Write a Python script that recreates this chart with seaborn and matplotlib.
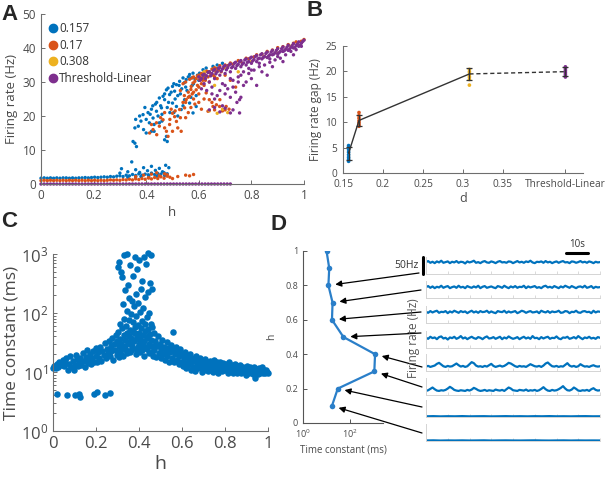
import numpy as np
import pandas as pd
import seaborn as sns
import matplotlib.pyplot as plt
from matplotlib.lines import Line2D

sns.set_style("ticks")
plt.rcParams['font.family'] = ['Open Sans', 'DejaVu Sans']
plt.rcParams['mathtext.default'] = 'regular'
plt.rcParams['xtick.direction'] = 'in'
plt.rcParams['ytick.direction'] = 'in'

# MATLAB default colours
C_BLUE = '#0072BD'
C_ORANGE = '#D95319'
C_YELLOW = '#EDB120'
C_PURPLE = '#7E2F8E'
TXT = '#4a4a4a'
AXC = '#6e6e6e'

# ---------------- A : firing rate vs h ----------------
d_labels = ['0.157', '0.17', '0.308', 'Threshold-Linear']
d_colors = [C_BLUE, C_ORANGE, C_YELLOW, C_PURPLE]

h_low = [0.000, 0.012, 0.024, 0.036, 0.048, 0.060, 0.072, 0.084, 0.096, 0.108,
         0.120, 0.132, 0.144, 0.156, 0.168, 0.180, 0.192, 0.204, 0.216, 0.228,
         0.240, 0.252, 0.264, 0.276, 0.288, 0.300, 0.312, 0.324, 0.336, 0.348,
         0.360, 0.372, 0.384, 0.396, 0.408, 0.420, 0.432, 0.444, 0.456, 0.468, 0.480]
h_low_tail = [0.492, 0.504, 0.516, 0.528, 0.540, 0.552, 0.564, 0.576, 0.588, 0.600,
              0.612, 0.624, 0.636, 0.648, 0.660, 0.672, 0.684, 0.696, 0.708, 0.720]

blue_low_fr = [1.7, 1.8, 1.7, 1.8, 1.7, 1.8, 1.7, 1.8, 1.8, 1.7, 1.8, 1.7, 1.8, 1.8, 1.9, 1.8,
               1.9, 2.0, 1.9, 2.0, 2.1, 2.0, 2.2, 2.1, 2.3, 2.4, 2.2, 2.6, 2.4, 2.8, 2.5, 3.0,
               2.6, 2.9, 2.7, 3.2, 2.8, 3.1, 2.9, 3.3, 3.0]
blue_mid_h = [0.300, 0.306, 0.330, 0.345, 0.360, 0.375, 0.390, 0.405, 0.420, 0.435,
              0.450, 0.462, 0.474, 0.486, 0.380, 0.410, 0.440, 0.470, 0.330, 0.360]
blue_mid_fr = [3.2, 4.5, 3.6, 6.5, 4.2, 3.4, 4.8, 3.9, 5.2, 4.0,
               4.6, 3.6, 5.5, 4.8, 2.2, 2.4, 2.3, 2.5, 2.0, 2.1]
blue_hi_h = [0.350, 0.357, 0.363, 0.357, 0.370, 0.375, 0.388, 0.400, 0.407, 0.420,
             0.426, 0.439, 0.445, 0.458, 0.400, 0.420, 0.430, 0.450, 0.464, 0.470,
             0.477, 0.483, 0.489, 0.500, 0.508, 0.470, 0.477, 0.480, 0.515, 0.527,
             0.540, 0.552, 0.565, 0.571, 0.578, 0.500, 0.515, 0.533, 0.546, 0.565,
             0.578, 0.590, 0.603, 0.616, 0.628, 0.654, 0.395, 0.412, 0.435, 0.460,
             0.490, 0.520, 0.535, 0.555, 0.580, 0.600, 0.620, 0.640, 0.670, 0.690,
             0.440, 0.455, 0.470, 0.485, 0.495, 0.505, 0.510, 0.525, 0.530, 0.545,
             0.550, 0.560, 0.575, 0.585, 0.595, 0.610, 0.380, 0.390, 0.415, 0.425,
             0.450, 0.460, 0.480, 0.505, 0.520, 0.540, 0.570, 0.590, 0.360, 0.430]
blue_hi_fr = [12.5, 12.0, 11.0, 16.5, 17.0, 20.0, 20.4, 19.0, 21.0, 22.0,
              19.4, 21.4, 20.0, 22.4, 15.0, 15.5, 15.5, 25.3, 25.8, 24.8,
              27.7, 28.2, 26.3, 28.7, 27.3, 13.0, 14.0, 12.5, 29.2, 30.2,
              31.2, 30.7, 32.2, 31.2, 32.6, 23.8, 22.8, 21.9, 24.8, 23.8,
              20.9, 22.8, 32.6, 33.6, 34.1, 34.6, 22.5, 18.0, 23.5, 18.5,
              21.0, 26.0, 28.0, 27.5, 29.5, 30.5, 31.5, 33.0, 35.0, 35.5,
              24.0, 23.0, 26.5, 24.0, 27.0, 29.5, 25.0, 29.0, 26.5, 29.8,
              28.5, 31.5, 29.0, 31.0, 32.0, 31.0, 18.5, 16.0, 20.5, 23.0,
              18.0, 20.5, 22.5, 21.0, 20.0, 23.0, 25.5, 26.0, 19.0, 17.5]

orange_low_fr = [1.0, 1.1, 1.0, 1.1, 1.0, 1.1, 1.0, 1.1, 1.0, 1.1, 1.0, 1.1, 1.0, 1.1, 1.0, 1.1,
                 1.0, 1.1, 1.0, 1.1, 1.0, 1.1, 1.2, 1.1, 1.2, 1.1, 1.3, 1.2, 1.4, 1.2, 1.5, 1.3,
                 1.6, 1.4, 1.8, 1.5, 1.9, 1.6, 2.1, 1.7, 2.3]
orange_mid_h = [0.36, 0.39, 0.42, 0.45, 0.47, 0.49, 0.50, 0.52, 0.55, 0.565, 0.58, 0.44, 0.41, 0.48]
orange_mid_fr = [2.2, 2.6, 2.9, 2.4, 3.0, 2.0, 1.6, 2.2, 2.6, 2.4, 2.8, 3.3, 1.8, 2.7]
orange_hi_h = [0.413, 0.426, 0.439, 0.450, 0.464, 0.477, 0.483, 0.489, 0.500, 0.508,
               0.515, 0.527, 0.533, 0.546, 0.552, 0.565, 0.571, 0.578, 0.590, 0.603,
               0.616, 0.628, 0.640, 0.654, 0.667, 0.680, 0.704, 0.580, 0.590, 0.600,
               0.610, 0.620, 0.630, 0.640, 0.650, 0.660, 0.670, 0.680, 0.700, 0.720,
               0.750, 0.780, 0.820, 0.860, 0.900, 0.940, 0.970, 1.000, 0.560, 0.575,
               0.595, 0.610, 0.625, 0.660, 0.550, 0.520, 0.495, 0.560, 0.585, 0.440,
               0.470, 0.600, 0.610, 0.690, 0.720, 0.740, 0.635, 0.679,
               0.540, 0.550, 0.565, 0.575, 0.585, 0.595, 0.605, 0.615, 0.625, 0.635,
               0.645, 0.655, 0.665, 0.675, 0.685, 0.695, 0.710, 0.730, 0.760, 0.790,
               0.810, 0.840, 0.880, 0.920, 0.960, 0.990, 0.530, 0.545, 0.570, 0.600,
               0.620, 0.640, 0.670, 0.700, 0.550, 0.580,
               0.420, 0.455, 0.470, 0.490, 0.500, 0.510, 0.530, 0.540, 0.560, 0.570,
               0.580, 0.600, 0.620, 0.650, 0.660, 0.700, 0.715]
orange_hi_fr = [15.0, 16.0, 18.0, 17.0, 18.9, 15.5, 14.0, 17.5, 20.8, 19.8,
                18.4, 21.9, 15.5, 22.4, 24.8, 25.8, 28.7, 29.7, 27.7, 30.7,
                31.2, 26.8, 24.8, 22.8, 23.3, 24.8, 22.8, 31.5, 31.0, 32.0,
                32.5, 32.8, 33.2, 33.0, 33.8, 34.2, 34.0, 34.8, 35.0, 35.6,
                36.3, 37.0, 38.0, 39.0, 40.1, 41.0, 41.8, 42.5, 27.0, 26.5,
                29.0, 29.5, 30.5, 31.5, 19.5, 16.5, 22.0, 21.0, 23.5, 14.5,
                21.0, 24.0, 22.0, 21.5, 30.5, 28.5, 21.4, 22.8,
                29.5, 30.0, 30.8, 31.2, 30.2, 31.8, 31.5, 30.5, 32.0, 31.5,
                32.5, 32.0, 33.0, 33.5, 33.0, 34.2, 34.8, 35.2, 36.0, 36.8,
                37.4, 38.2, 39.4, 40.4, 41.4, 42.0, 27.5, 26.0, 27.8, 28.5,
                29.0, 30.0, 31.0, 32.0, 24.0, 25.0,
                17.5, 19.5, 16.5, 19.0, 15.5, 21.5, 19.5, 24.0, 25.5, 22.5,
                27.0, 26.5, 25.0, 24.0, 21.8, 21.8, 22.0]

yellow_h = [0.640, 0.670, 0.690, 0.710, 0.620, 0.700, 0.750, 0.800, 0.850, 0.900, 0.950, 0.660]
yellow_fr = [21.5, 20.8, 22.0, 21.0, 33.0, 34.5, 33.0, 36.0, 37.5, 38.5, 40.5, 29.0]

purple_hi_h = [0.60, 0.61, 0.62, 0.63, 0.64, 0.65, 0.66, 0.67, 0.68, 0.69,
               0.70, 0.71, 0.72, 0.73, 0.74, 0.75, 0.76, 0.77, 0.78, 0.79,
               0.80, 0.81, 0.82, 0.83, 0.84, 0.85, 0.86, 0.87, 0.88, 0.89,
               0.90, 0.91, 0.92, 0.93, 0.94, 0.95, 0.96, 0.97, 0.98, 0.99, 1.00,
               0.62, 0.64, 0.66, 0.68, 0.70, 0.72, 0.74, 0.76, 0.78, 0.80,
               0.82, 0.84, 0.86, 0.88, 0.90, 0.92, 0.94, 0.96, 0.98,
               0.63, 0.65, 0.67, 0.69, 0.71, 0.73, 0.75, 0.77, 0.79, 0.81,
               0.83, 0.85, 0.87, 0.89, 0.91, 0.93, 0.66, 0.70, 0.74, 0.78,
               0.72, 0.755, 0.745, 0.76, 0.64, 0.66, 0.68, 0.70, 0.72, 0.73,
               0.755, 0.69, 0.80, 0.84, 0.88, 0.92, 0.96, 0.86, 0.82,
               0.605, 0.615, 0.625, 0.635, 0.645, 0.655, 0.665, 0.675, 0.685, 0.695,
               0.705, 0.715, 0.725, 0.735, 0.745, 0.755, 0.765, 0.775, 0.785, 0.795,
               0.805, 0.815, 0.825, 0.835, 0.845, 0.855, 0.865, 0.875, 0.885, 0.895,
               0.905, 0.915, 0.925, 0.935, 0.945, 0.955, 0.965, 0.975, 0.985, 0.995,
               0.61, 0.65, 0.68, 0.70, 0.72, 0.76, 0.80, 0.83, 0.87, 0.90,
               0.95, 0.97, 0.99, 0.77, 0.73, 0.75, 0.79]
purple_hi_fr = [31.5, 31.0, 32.3, 31.8, 33.0, 32.5, 33.7, 33.0, 34.3, 33.8,
                34.8, 34.2, 35.3, 34.6, 35.8, 35.2, 36.3, 35.6, 36.8, 36.0,
                37.3, 36.6, 37.8, 37.0, 38.3, 37.5, 38.8, 38.0, 39.3, 38.6,
                39.8, 39.0, 40.3, 39.6, 40.8, 40.2, 41.3, 40.7, 41.8, 41.4, 42.3,
                29.5, 30.0, 31.0, 32.0, 32.5, 33.0, 34.0, 34.5, 35.0, 35.5,
                36.0, 36.8, 37.2, 38.0, 38.3, 39.0, 39.3, 40.0, 40.5,
                27.5, 28.5, 26.0, 29.5, 28.0, 30.5, 31.5, 29.0, 32.5, 33.5,
                34.5, 35.0, 35.8, 36.5, 37.0, 38.0, 25.0, 26.5, 27.0, 30.0,
                25.5, 24.8, 24.0, 25.5, 21.8, 22.5, 21.2, 22.3, 20.9, 21.8,
                20.9, 23.0, 31.0, 33.0, 34.5, 36.0, 38.0, 32.0, 29.0,
                30.5, 32.0, 31.0, 32.8, 31.8, 33.4, 32.4, 34.0, 33.2, 34.6,
                33.6, 35.0, 34.2, 35.5, 34.8, 36.0, 35.2, 36.5, 35.8, 37.0,
                36.2, 37.5, 36.8, 38.0, 37.2, 38.4, 37.6, 38.8, 38.2, 39.3,
                38.6, 39.8, 39.2, 40.2, 39.6, 40.7, 40.1, 41.2, 40.8, 41.9,
                28.0, 26.5, 27.5, 29.0, 31.0, 32.0, 33.5, 35.5, 36.8, 37.5,
                39.0, 39.5, 40.5, 33.0, 28.5, 30.0, 34.0]

# ---------------- B : firing rate gap vs d ----------------
b_ticks = [0.15, 0.2, 0.25, 0.3, 0.35, 0.428]
b_ticklabels = ['0.15', '0.2', '0.25', '0.3', '0.35', 'Threshold-Linear']
b_d = [0.157, 0.17, 0.308, 0.428]
gap_points = [[2.3, 2.7, 3.1, 3.6, 4.1, 4.6, 5.0, 5.4],
              [9.2, 9.5, 9.9, 10.3, 10.8, 11.3, 11.9],
              [17.3, 18.4, 18.9, 19.4, 19.9, 20.4],
              [18.9, 19.3, 19.7, 20.1, 20.5, 20.9]]
gap_mean = [3.9, 10.35, 19.5, 19.95]
gap_err = [1.3, 1.05, 1.1, 0.95]

# ---------------- C : time constant vs h ----------------
c_low_h = [0.020, 0.065, 0.100, 0.120, 0.125, 0.190, 0.205, 0.240, 0.265]
c_low_tau = [4.2, 4.0, 4.1, 4.3, 3.8, 4.2, 4.5, 4.0, 4.4]
c_h = [0.000, 0.005, 0.012, 0.018, 0.025, 0.030, 0.038, 0.045, 0.050, 0.057,
       0.062, 0.068, 0.074, 0.080, 0.086, 0.092, 0.098, 0.100, 0.105, 0.110,
       0.115, 0.120, 0.126, 0.132, 0.138, 0.142, 0.148, 0.153, 0.158, 0.162,
       0.168, 0.173, 0.178, 0.183, 0.188, 0.193, 0.198, 0.200,
       0.205, 0.210, 0.215, 0.220, 0.225, 0.230, 0.235, 0.240, 0.245, 0.250,
       0.255, 0.260, 0.263, 0.268, 0.272, 0.276, 0.280, 0.284, 0.288, 0.292, 0.296, 0.298,
       0.300, 0.302, 0.304, 0.306, 0.308, 0.310, 0.312, 0.314, 0.316, 0.318,
       0.320, 0.322, 0.324, 0.326, 0.328, 0.330, 0.332, 0.334, 0.336, 0.338,
       0.340, 0.342, 0.344, 0.346, 0.348, 0.350, 0.352, 0.354, 0.356, 0.358,
       0.360, 0.362, 0.364, 0.366, 0.368, 0.370, 0.372, 0.374, 0.376, 0.378,
       0.380, 0.382, 0.384, 0.386, 0.388, 0.390, 0.392, 0.394, 0.396, 0.398,
       0.400, 0.402, 0.404, 0.406, 0.408, 0.410, 0.412, 0.414, 0.416, 0.418,
       0.420, 0.422, 0.424, 0.426, 0.428, 0.430, 0.432, 0.434, 0.436, 0.438,
       0.440, 0.442, 0.444, 0.446, 0.448, 0.450, 0.452, 0.454, 0.456, 0.458,
       0.460, 0.462, 0.464,
       0.305, 0.315, 0.325, 0.335, 0.345, 0.355, 0.365, 0.375, 0.385, 0.395,
       0.405, 0.415, 0.425, 0.435, 0.445, 0.455, 0.465, 0.360, 0.380, 0.400,
       0.420, 0.440, 0.460,
       0.468, 0.472, 0.476, 0.480, 0.484, 0.488, 0.492, 0.496, 0.500, 0.504,
       0.508, 0.512, 0.516, 0.520, 0.524, 0.528, 0.532, 0.536, 0.540, 0.544,
       0.548, 0.552, 0.556, 0.560, 0.564, 0.568, 0.572, 0.576, 0.580, 0.584,
       0.588, 0.592, 0.596, 0.600,
       0.604, 0.608, 0.612, 0.616, 0.620, 0.624, 0.628, 0.632, 0.636, 0.640,
       0.644, 0.648, 0.652, 0.656, 0.660, 0.664, 0.668, 0.672, 0.676, 0.680,
       0.684, 0.688, 0.692, 0.696, 0.700, 0.704, 0.708, 0.712, 0.716, 0.720,
       0.724, 0.728, 0.732, 0.736, 0.740, 0.744, 0.748, 0.752, 0.756, 0.760,
       0.764, 0.768, 0.772, 0.776, 0.780, 0.784, 0.788, 0.792, 0.796, 0.800,
       0.804, 0.808, 0.812, 0.816, 0.820, 0.824, 0.828, 0.832, 0.836, 0.840,
       0.844, 0.848, 0.852, 0.856, 0.860, 0.864, 0.868, 0.872, 0.876, 0.880,
       0.884, 0.888, 0.892, 0.896, 0.900, 0.904, 0.908, 0.912, 0.916, 0.920,
       0.924, 0.928, 0.932, 0.936, 0.940, 0.944, 0.948, 0.952, 0.956, 0.960,
       0.964, 0.968, 0.972, 0.976, 0.980, 0.984, 0.988, 0.992, 0.996, 1.000]
c_tau = [11.5, 12.5, 11.8, 13.5, 12.2, 14.8, 13.0, 16.0, 12.5, 15.0,
         17.5, 11.0, 13.8, 18.5, 12.0, 15.5, 10.8, 13.2, 19.5, 16.5,
         12.5, 14.5, 17.0, 13.0, 21.0, 15.5, 12.2, 18.0, 24.0, 14.0,
         16.5, 20.0, 13.5, 17.5, 22.5, 15.0, 26.0, 19.0,
         14.5, 21.5, 17.0, 27.0, 15.5, 23.0, 19.5, 31.0, 17.0, 25.0,
         21.0, 34.0, 18.5, 28.0, 22.5, 38.0, 16.0, 30.0, 24.0, 42.0, 19.5, 33.0,
         22.0, 48.0, 600, 28.0, 720, 36.0, 65.0, 500, 20.0, 30.0,
         55.0, 410, 140, 26.0, 42.0, 80.0, 950, 35.0, 250, 24.0,
         60.0, 110, 1000, 45.0, 300, 32.0, 75.0, 180, 22.0, 52.0,
         650, 38.0, 95.0, 160, 28.0, 70.0, 420, 48.0, 130, 35.0,
         900, 58.0, 210, 25.0, 88.0, 40.0, 550, 62.0, 150, 30.0,
         46.0, 780, 105, 36.0, 260, 56.0, 24.0, 350, 72.0, 42.0,
         120, 880, 33.0, 64.0, 190, 50.0, 27.0, 680, 85.0, 38.0,
         230, 54.0, 1050, 30.0, 100, 44.0, 320, 66.0, 950, 35.0,
         58.0, 260, 28.0,
         18.0, 25.0, 19.0, 28.0, 21.0, 40.0, 24.0, 33.0, 20.0, 27.0,
         22.0, 31.0, 19.0, 25.0, 21.0, 28.0, 19.0, 30.0, 45.0, 36.0,
         28.0, 40.0, 22.0,
         45.0, 24.0, 33.0, 18.0, 28.0, 40.0, 21.0, 30.0, 17.0, 25.0,
         35.0, 20.0, 27.0, 16.0, 23.0, 32.0, 19.0, 26.0, 15.0, 22.0,
         29.0, 17.5, 48.0, 24.0, 14.5, 20.0, 27.0, 16.0, 22.0, 13.5,
         18.5, 25.0, 15.0, 20.0,
         12.5, 17.0, 22.0, 14.0, 11.5, 18.5, 13.0, 16.0, 20.0, 11.0,
         14.5, 17.5, 12.0, 15.5, 10.5, 19.0, 13.0, 16.0, 11.5, 14.0,
         17.0, 12.0, 10.0, 15.0, 13.0, 11.0, 16.5, 12.5, 14.5, 10.5,
         13.5, 15.5, 11.5, 12.5, 14.0, 10.0, 16.0, 12.0, 13.5, 11.0,
         14.5, 9.8, 12.5, 15.0, 11.5, 13.0, 10.5, 14.0, 12.0, 10.8,
         13.5, 11.5, 9.8, 12.5, 14.5, 10.5, 11.8, 13.0, 9.5, 12.0,
         10.8, 13.5, 11.0, 9.8, 12.5, 10.5, 11.8, 13.0, 9.5, 11.2,
         12.2, 10.2, 11.5, 9.0, 12.5, 10.5, 11.0, 9.6, 12.0, 10.2,
         11.3, 9.4, 10.8, 12.2, 8.0, 10.0, 11.2, 9.2, 10.4, 11.8,
         9.6, 10.6, 12.2, 9.8, 11.0, 10.2, 9.5, 10.8, 10.0, 9.8]

# ---------------- D : time constant per h + example traces ----------------
d_h = [1.0, 0.9, 0.8, 0.7, 0.6, 0.5, 0.4, 0.3, 0.2, 0.1]
d_tau = [10, 13, 12, 18, 17, 52, 1150, 1070, 30, 17]
arrow_h = [0.8, 0.7, 0.6, 0.5, 0.4, 0.3, 0.2, 0.1]

trace_rows = [
    [35, 38, 33, 36, 32, 37, 34, 39, 33, 35, 37, 32, 36, 34, 38, 33, 36, 35, 31, 37,
     34, 36, 39, 33, 35, 32, 36, 38, 34, 33, 37, 35, 32, 36, 38, 34, 35, 33, 37, 36,
     32, 35, 38, 34, 36, 33, 37, 35, 39, 34, 32, 36, 35, 37, 33, 38, 34, 36, 32, 35,
     37, 33, 36, 38, 34, 35, 32, 37, 36, 33, 35, 38, 34, 36, 33, 37, 35, 32, 36, 34, 35],
    [32, 35, 30, 34, 29, 33, 31, 36, 30, 33, 35, 29, 32, 34, 30, 36, 31, 33, 29, 35,
     32, 30, 34, 31, 36, 29, 33, 35, 30, 32, 34, 31, 29, 35, 33, 30, 36, 32, 29, 34,
     31, 35, 30, 33, 32, 36, 29, 34, 31, 33, 35, 30, 32, 29, 34, 36, 31, 33, 30, 35,
     32, 29, 34, 31, 36, 33, 30, 35, 32, 29, 33, 34, 31, 36, 30, 32, 35, 29, 33, 31, 32],
    [33, 30, 35, 31, 34, 36, 30, 33, 32, 35, 29, 34, 31, 36, 33, 30, 35, 32, 34, 29,
     33, 36, 31, 34, 30, 35, 32, 33, 36, 30, 34, 31, 29, 35, 33, 32, 36, 30, 34, 31,
     33, 35, 29, 32, 36, 34, 30, 33, 35, 31, 32, 34, 29, 36, 33, 31, 35, 30, 34, 32,
     33, 36, 30, 31, 35, 34, 29, 33, 32, 36, 31, 30, 34, 35, 32, 33, 29, 36, 31, 34, 33],
    [30, 27, 33, 29, 31, 26, 32, 34, 28, 30, 25, 31, 29, 33, 27, 30, 35, 28, 31, 26,
     30, 33, 29, 27, 32, 30, 26, 31, 34, 28, 29, 32, 27, 30, 33, 26, 31, 28, 34, 30,
     27, 29, 32, 26, 30, 33, 28, 31, 27, 35, 29, 30, 26, 32, 28, 31, 33, 27, 30, 29,
     34, 28, 26, 31, 30, 33, 27, 29, 32, 28, 35, 30, 26, 31, 29, 33, 28, 30, 27, 32, 30],
    [13, 15, 12, 14, 16, 21, 24, 19, 14, 12, 15, 13, 14, 18, 22, 17, 13, 15, 12, 14,
     20, 26, 23, 16, 13, 14, 12, 15, 13, 17, 21, 15, 12, 14, 16, 13, 15, 19, 24, 22,
     18, 14, 12, 15, 13, 14, 12, 16, 20, 17, 14, 13, 15, 12, 16, 22, 25, 19, 14, 13,
     15, 12, 14, 13, 18, 23, 16, 13, 15, 12, 14, 20, 16, 13, 14, 12, 15, 17, 14, 13, 14],
    [12, 14, 18, 22, 17, 13, 12, 14, 13, 15, 19, 24, 20, 15, 13, 12, 14, 13, 12, 15,
     13, 16, 21, 18, 14, 12, 13, 15, 12, 14, 13, 12, 16, 14, 13, 15, 12, 17, 22, 19,
     14, 13, 12, 15, 14, 13, 16, 12, 14, 13, 15, 12, 14, 18, 23, 17, 13, 12, 15, 13,
     14, 17, 21, 26, 19, 14, 13, 16, 22, 18, 13, 12, 14, 13, 15, 12, 17, 20, 15, 13, 14],
    [2.0, 2.5, 1.8, 2.3, 2.0, 2.6, 1.9, 2.2, 2.4, 1.8, 2.1, 2.5, 2.0, 2.3, 1.9, 2.4,
     2.1, 2.6, 2.0, 2.2, 1.9, 2.3, 2.5, 2.0, 2.1],
    [1.5, 1.9, 1.3, 1.7, 1.5, 1.8, 1.4, 1.6, 1.9, 1.3, 1.6, 1.8, 1.5, 1.4, 1.7, 1.9,
     1.5, 1.3, 1.6, 1.8, 1.4, 1.7, 1.5, 1.6, 1.5],
]
trace_len_s = 80

W, H = 605, 478
fig = plt.figure(figsize=(W / 100, H / 100), dpi=100)


def px_axes(l, t, r, b):
    return fig.add_axes([l / W, 1 - b / H, (r - l) / W, (b - t) / H])


def style(ax, fs, col=AXC):
    for s in ['top', 'right']:
        ax.spines[s].set_visible(False)
    for s in ['left', 'bottom']:
        ax.spines[s].set_color(col)
        ax.spines[s].set_linewidth(0.8)
    ax.tick_params(which='both', colors=col, labelcolor=TXT, labelsize=fs, width=0.7)
    ax.tick_params(which='major', length=3)
    ax.tick_params(which='minor', length=1.8)


# ---- panel A ----
frames = [
    pd.DataFrame({'h': h_low + blue_mid_h + blue_hi_h,
                  'fr': blue_low_fr + blue_mid_fr + blue_hi_fr, 'd': d_labels[0]}),
    pd.DataFrame({'h': h_low + orange_mid_h + orange_hi_h,
                  'fr': orange_low_fr + orange_mid_fr + orange_hi_fr, 'd': d_labels[1]}),
    pd.DataFrame({'h': yellow_h, 'fr': yellow_fr, 'd': d_labels[2]}),
    pd.DataFrame({'h': h_low + h_low_tail + purple_hi_h,
                  'fr': [0.0] * (len(h_low) + len(h_low_tail)) + purple_hi_fr, 'd': d_labels[3]}),
]
dfA = pd.concat(frames, ignore_index=True)

axA = px_axes(41, 14, 304, 184)
sns.scatterplot(data=dfA, x='h', y='fr', hue='d', hue_order=d_labels, palette=d_colors,
                s=6, linewidth=0, legend=False, ax=axA)
for coll in axA.collections:
    coll.set_clip_on(False)
axA.set_xlim(0, 1)
axA.set_ylim(0, 50)
axA.set_xticks([0, 0.2, 0.4, 0.6, 0.8, 1])
axA.set_xticklabels(['0', '0.2', '0.4', '0.6', '0.8', '1'])
axA.set_yticks([0, 10, 20, 30, 40, 50])
axA.set_xlabel('h', fontsize=9.5, color=TXT, labelpad=3)
axA.set_ylabel('Firing rate (Hz)', fontsize=9.5, color=TXT, labelpad=3)
style(axA, 8.5)
handles = [Line2D([], [], ls='', marker='o', markersize=6, color=c) for c in d_colors]
axA.legend(handles, d_labels, loc='upper left', bbox_to_anchor=(0.0, 1.0), frameon=False,
           fontsize=8.5, handlelength=0.6, handletextpad=0.25, labelspacing=0.3,
           borderaxespad=0.3, labelcolor='#333333')

# ---- panel B ----
dfB = pd.concat([pd.DataFrame({'d': [x] * len(p), 'gap': p, 'grp': lab})
                 for x, p, lab in zip(b_d, gap_points, d_labels)], ignore_index=True)
axB = px_axes(343, 46, 583, 173)
sns.scatterplot(data=dfB, x='d', y='gap', hue='grp', hue_order=d_labels, palette=d_colors,
                s=7, linewidth=0, legend=False, ax=axB)
axB.plot(b_d[:3], gap_mean[:3], color='#333333', lw=1.0)
axB.plot(b_d[2:], gap_mean[2:], color='#333333', lw=1.0, ls=(0, (3, 2)))
axB.errorbar(b_d, gap_mean, yerr=gap_err, fmt='none', ecolor='#333333', elinewidth=0.9,
             capsize=2.5, capthick=0.9)
axB.set_xlim(0.15, 0.45)
axB.set_ylim(0, 25)
axB.set_xticks(b_ticks)
axB.set_xticklabels(b_ticklabels)
axB.set_yticks([0, 5, 10, 15, 20, 25])
axB.set_xlabel('d', fontsize=9, color=TXT, labelpad=1)
axB.set_ylabel('Firing rate gap (Hz)', fontsize=8.5, color=TXT, labelpad=2)
style(axB, 7.3)
axB.tick_params(axis='x', pad=4.5)
axB.tick_params(axis='y', pad=4.5)

# ---- panel C ----
axC = px_axes(53, 254, 268, 431)
sns.scatterplot(x=c_h + c_low_h, y=c_tau + c_low_tau, color=C_BLUE, s=22, linewidth=0,
                ax=axC)
for coll in axC.collections:
    coll.set_clip_on(False)
axC.set_yscale('log')
axC.set_xlim(0, 1)
axC.set_ylim(1, 1000)
axC.set_xticks([0, 0.2, 0.4, 0.6, 0.8, 1])
axC.set_xticklabels(['0', '0.2', '0.4', '0.6', '0.8', '1'])
axC.set_yticks([1, 10, 100, 1000])
axC.set_yticklabels(['$10^0$', '$10^1$', '$10^2$', '$10^3$'])
axC.set_xlabel('h', fontsize=14, color=TXT, labelpad=2)
axC.set_ylabel('Time constant (ms)', fontsize=12.5, color=TXT, labelpad=1)
style(axC, 12)

# ---- panel D (left) ----
axD = px_axes(303, 251, 383, 423)
sns.lineplot(x=d_tau, y=d_h, orient='y', estimator=None, color='#2a7fc9', lw=1.6,
             marker='o', markersize=4, markeredgewidth=0, ax=axD)
axD.set_xscale('log')
axD.set_xlim(1, 2500)
axD.set_ylim(0, 1)
axD.set_xticks([1, 100])
axD.set_xticklabels(['$10^0$', '$10^2$'])
axD.set_yticks([0, 0.2, 0.4, 0.6, 0.8, 1])
axD.set_yticklabels(['0', '0.2', '0.4', '0.6', '0.8', '1'])
axD.set_xlabel('Time constant (ms)', fontsize=7, color=TXT, labelpad=3)
axD.set_ylabel('h', fontsize=7.5, color=TXT, labelpad=6)
style(axD, 6.5, col='#555555')

# arrows from the traces to the dots
tails = [(419, 273), (421, 290), (421, 312), (421, 333), (422, 367), (422, 387), (422, 407), (422, 433)]
for hv, (tx, ty) in zip(arrow_h, tails):
    tau = d_tau[d_h.index(hv)]
    axD.annotate('', xy=(tau, hv), xycoords='data', xytext=(tx / W, 1 - ty / H),
                 textcoords='figure fraction', annotation_clip=False,
                 arrowprops=dict(arrowstyle='-|>', color='black', lw=0.9,
                                 shrinkA=0, shrinkB=5, mutation_scale=9))

# ---- panel D (traces) ----
bottoms = [274, 298, 323, 348, 371, 395, 417, 441]
trace_axes = []
for vals, b in zip(trace_rows, bottoms):
    ax = px_axes(426, b - 17, 600, b)
    ax.set_facecolor('none')
    t = np.linspace(0, trace_len_s, len(vals))
    sns.lineplot(x=t, y=vals, estimator=None, color=C_BLUE, lw=1.6, ax=ax)
    ax.set_xlim(0, trace_len_s)
    ax.set_ylim(0, 50)
    ax.set_xticks(np.arange(0, trace_len_s + 1, 10))
    ax.set_yticks([])
    ax.set_xticklabels([])
    for s in ['top', 'right']:
        ax.spines[s].set_visible(False)
    for s in ['left', 'bottom']:
        ax.spines[s].set_color('#d4d4d4')
        ax.spines[s].set_linewidth(0.7)
    ax.tick_params(axis='x', colors='#d4d4d4', length=2, width=0.6)
    trace_axes.append(ax)

ax1 = trace_axes[0]
ax1.plot([-1.4, -1.4], [0, 50], color='black', lw=2.2, clip_on=False)
ax1.text(-3.5, 24, '50Hz', fontsize=7.5, color='#333333', ha='right', va='center')
ax1.plot([64.5, 74.5], [62, 62], color='black', lw=2.2, clip_on=False)
ax1.text(69.5, 88, '10s', fontsize=7, color='#333333', ha='center', va='center')

fig.text(413 / W, 1 - 338 / H, 'Firing rate (Hz)', rotation=90, fontsize=8.5,
         color='#555555', ha='center', va='center')

# panel letters
for lab, x, y in [('A', 9, 15), ('B', 315, 10), ('C', 9, 222), ('D', 279, 225)]:
    fig.text(x / W, 1 - y / H, lab, fontsize=16, fontweight='bold',
             family=['Liberation Sans', 'DejaVu Sans'], ha='center', va='center')

fig.savefig('out.png', dpi=100)
